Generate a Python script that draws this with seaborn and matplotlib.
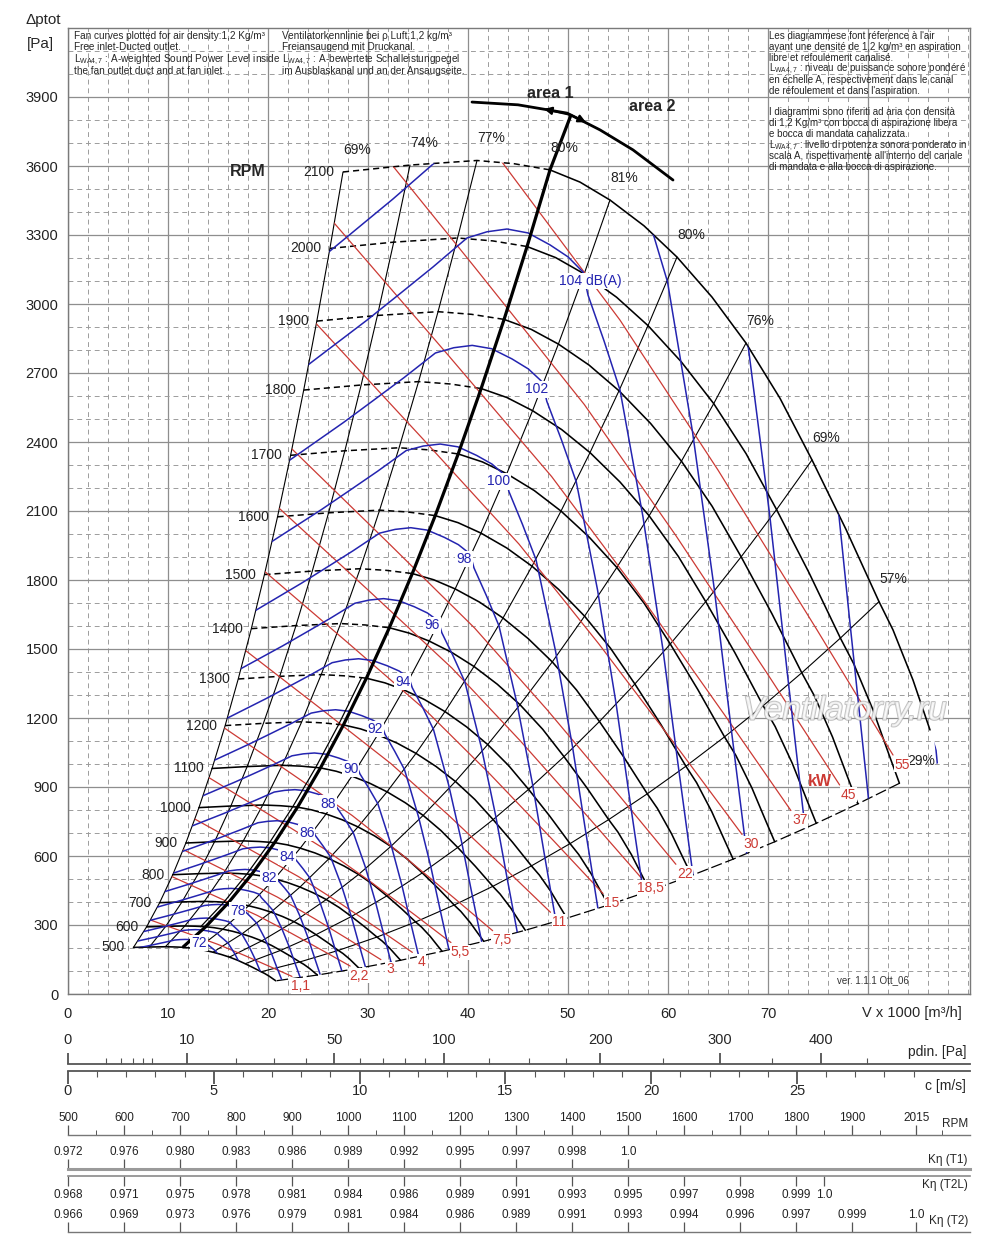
import numpy as np
import pandas as pd
import matplotlib
matplotlib.use("Agg")
import matplotlib.pyplot as plt
import matplotlib.patheffects as pe
from matplotlib.patches import Polygon
from matplotlib.ticker import MultipleLocator
from matplotlib.transforms import offset_copy
import seaborn as sns

# ---------------- values ----------------
# 2100 rpm characteristic: V x 1000 m3/h, total pressure Pa
base_V = [27.5, 34.2, 40.9, 44.6, 48.2, 51.2, 54.2, 57.6, 60.9, 64.4, 67.8,
          71.2, 74.4, 77.8, 81.1, 82.5, 84.5, 86.2, 87.3]
base_p = [3574, 3604, 3624, 3610, 3583, 3530, 3452, 3340, 3204, 3030, 2830,
          2590, 2322, 2020, 1706, 1583, 1365, 1148, 1010]
area_idx = 4  # curve point on the area 1 / area 2 line

rpm = [500, 600, 700, 800, 900, 1000, 1100, 1200, 1300, 1400, 1500,
       1600, 1700, 1800, 1900, 2000, 2100]

# efficiency lines, top end on the 2100 rpm curve
eff_labels = ["69%", "74%", "77%", "80%", "81%", "80%", "76%", "69%", "57%"]
eff_V = [27.5, 34.2, 40.9, 48.2, 54.2, 60.9, 67.8, 74.4, 81.1]
eff_p = [3574, 3604, 3624, 3583, 3452, 3204, 2830, 2322, 1706]

# 104 dB(A) sound power curve, the others are spaced by snd_step
snd_V = [24.0, 29.9, 33.2, 36.5, 39.9, 41.9, 43.9, 46.0, 48.2, 50.0, 51.5,
         52.0, 53.6, 55.2, 57.5, 59.5, 61.0, 62.5]
snd_p = [2735, 2930, 3045, 3161, 3287, 3314, 3326, 3309, 3257, 3205, 3139,
         3039, 2840, 2626, 2074, 1496, 1000, 517]
snd_levels = [72, 74, 76, 78, 80, 82, 84, 86, 88, 90, 92, 94, 96, 98, 100,
              102, 104, 106, 108, 110, 112]
snd_labelled = [72, 78, 82, 84, 86, 88, 90, 92, 94, 96, 98, 100, 102, 104]
snd_step = 1.086
snd_gap = (51.6, 3100)

# 55 kW absorbed power line, the others scale with the power
kw_V = [27.0, 31.0, 43.4, 55.2, 65.0, 74.9, 82.5]
kw_p = [4560, 4330, 3617, 2930, 2278, 1583, 1039]
kw = [1.1, 2.2, 3, 4, 5.5, 7.5, 11, 15, 18.5, 22, 30, 37, 45, 55]
kw_text = ["1,1", "2,2", "3", "4", "5,5", "7,5", "11", "15", "18,5", "22",
           "30", "37", "45", "55"]

# area limit arc
arc_V = [40.4, 45.0, 49.9, 53.2, 56.5, 60.5]
arc_p = [3878, 3866, 3830, 3757, 3670, 3539]
area_top = (50.3, 3822)

# scales under the chart
outlet_area = 0.81
air_density = 1.2
pdin_major = [0, 10, 50, 100, 200, 300, 400]
pdin_minor = [1, 2, 3, 4, 5, 20, 30, 40, 60, 70, 80, 90, 125, 150, 175, 250, 350, 450]
c_major = [0, 5, 10, 15, 20, 25]

row_rpm = [500, 600, 700, 800, 900, 1000, 1100, 1200, 1300, 1400, 1500,
           1600, 1700, 1800, 1900, 2015]
k_t1_rpm = [500, 600, 700, 800, 900, 1000, 1100, 1200, 1300, 1400, 1500]
k_t1 = ["0.972", "0.976", "0.980", "0.983", "0.986", "0.989", "0.992",
        "0.995", "0.997", "0.998", "1.0"]
k_t2l_rpm = [500, 600, 700, 800, 900, 1000, 1100, 1200, 1300, 1400, 1500,
             1600, 1700, 1800, 1850]
k_t2l = ["0.968", "0.971", "0.975", "0.978", "0.981", "0.984", "0.986",
         "0.989", "0.991", "0.993", "0.995", "0.997", "0.998", "0.999", "1.0"]
k_t2_rpm = [500, 600, 700, 800, 900, 1000, 1100, 1200, 1300, 1400, 1500,
            1600, 1700, 1800, 1900, 2015]
k_t2 = ["0.966", "0.969", "0.973", "0.976", "0.979", "0.981", "0.984",
        "0.986", "0.989", "0.991", "0.993", "0.994", "0.996", "0.997",
        "0.999", "1.0"]

# ---------------- figure ----------------
sns.set_style("white")
plt.rcParams['font.family'] = ['Liberation Sans', 'DejaVu Sans']
plt.rcParams['mathtext.fontset'] = 'custom'
plt.rcParams['mathtext.rm'] = 'Liberation Sans'
plt.rcParams['mathtext.it'] = 'Liberation Sans:italic'
narrow = ['Liberation Sans Narrow', 'Liberation Sans', 'DejaVu Sans']

H = 1243.0


def fy(y):
    return 1 - y / H


fig = plt.figure(figsize=(10, 12.43), dpi=100)
ax = fig.add_axes([0.068, fy(994), 0.902, (994 - 28) / H])

BLUE = '#2424b0'
RED = '#cc3a34'
GRID = '#8e8e8e'


def draw(rows, **kw):
    df = pd.DataFrame(rows, columns=['curve', 'V', 'p'])
    before = len(ax.lines)
    sns.lineplot(data=df, x='V', y='p', units='curve', estimator=None,
                 sort=False, legend=False, ax=ax, **kw)
    return ax.lines[before:]


scales = [n / 2100 for n in rpm]

# working region of the fan (used to clip sound and power lines)
left_edge = [(base_V[0] * s, base_p[0] * s * s) for s in scales]
top_edge = list(zip(base_V[1:], base_p[1:]))
low_edge = [(base_V[-1] * s, base_p[-1] * s * s) for s in scales[::-1]][1:]
s0 = scales[0]
rpm500 = [(v * s0, p * s0 * s0) for v, p in zip(base_V[::-1], base_p[::-1])][1:]
region = Polygon(left_edge + top_edge + low_edge + rpm500, closed=True,
                 transform=ax.transData, fc='none', ec='none')

# rpm curves
dash_rows, solid_rows = [], []
for n, s in zip(rpm, scales):
    stop = len(base_V) - 1 if n == 2100 else len(base_V)
    target = dash_rows if n >= 1200 else solid_rows
    for i in range(area_idx + 1):
        target.append((n, base_V[i] * s, base_p[i] * s * s))
    for i in range(area_idx, stop):
        solid_rows.append((n + 10000, base_V[i] * s, base_p[i] * s * s))
draw(solid_rows, color='black', lw=1.15, zorder=4)
for ln in draw(dash_rows, color='black', lw=1.1, zorder=4):
    ln.set_dashes([4, 2.6])

# lower boundary (dashed)
ax.plot([v for v, p in low_edge], [p for v, p in low_edge],
        color='black', lw=0.9, dashes=[9, 3], zorder=4)

# efficiency lines
eff_rows = []
for j, (ve, pe_) in enumerate(zip(eff_V, eff_p)):
    for s in scales:
        eff_rows.append((j, ve * s, pe_ * s * s))
draw(eff_rows, color='black', lw=0.8, zorder=3)
for lab, ve, pe_ in zip(eff_labels, eff_V, eff_p):
    ax.annotate(lab, (ve, pe_), xytext=(10.5, 16), textcoords='offset points',
                ha='center', va='center', fontsize=10, color='#222222', zorder=9)
ax.annotate("29%", (base_V[-2], base_p[-2]), xytext=(-6, -22),
            textcoords='offset points', ha='center', va='center',
            fontsize=10, color='#222222', zorder=8)

# area line (thick) and area arc
av = [eff_V[3] * s for s in scales] + [area_top[0]]
ap = [eff_p[3] * s * s for s in scales] + [area_top[1]]
ax.plot(av, ap, color='black', lw=2.3, zorder=6, solid_capstyle='butt')
tr = offset_copy(ax.transData, fig=fig, x=-5, y=0, units='dots')
ax.plot(av[1:9], ap[1:9], color='black', lw=0.9, zorder=6, transform=tr)
ax.plot(arc_V, arc_p, color='black', lw=2.0, zorder=6)
ax.annotate('', xy=(arc_V[1] + 2.6, 3848), xytext=area_top,
            arrowprops=dict(arrowstyle='-|>', color='black', lw=1.6,
                            mutation_scale=11, shrinkA=0, shrinkB=0), zorder=7)
ax.annotate('', xy=(arc_V[3] - 1.4, 3790), xytext=area_top,
            arrowprops=dict(arrowstyle='-|>', color='black', lw=1.6,
                            mutation_scale=11, shrinkA=0, shrinkB=0), zorder=7)
ax.text(48.2, 3917, "area 1", fontsize=11.5, fontweight='bold', ha='center', va='center')
ax.text(58.4, 3857, "area 2", fontsize=11.5, fontweight='bold', ha='center', va='center')

# sound power curves
snd_rows = []
for L in snd_levels:
    r = snd_step ** ((L - 104) / 2)
    for v, p in zip(snd_V, snd_p):
        snd_rows.append((L, v * r, p * r * r))
for ln in draw(snd_rows, color=BLUE, lw=1.1, zorder=5):
    ln.set_clip_path(region)
for L in snd_labelled:
    r = snd_step ** ((L - 104) / 2)
    if L == 104:
        ax.annotate("104 dB(A)", (snd_gap[0] * r, snd_gap[1] * r * r),
                    xytext=(-18, 0), textcoords='offset points', ha='left',
                    va='center', fontsize=10, color=BLUE, zorder=10,
                    bbox=dict(boxstyle='square,pad=0.08', fc='white', ec='none'))
    else:
        ax.annotate(str(L), (snd_gap[0] * r, snd_gap[1] * r * r),
                    xytext=(-5, 0), textcoords='offset points', ha='center',
                    va='center', fontsize=10, color=BLUE, zorder=10,
                    bbox=dict(boxstyle='square,pad=0.08', fc='white', ec='none'))

# absorbed power lines
kw_rows = []
for P in kw:
    f = (P / 55) ** (1 / 3)
    for v, p in zip(kw_V, kw_p):
        kw_rows.append((P, v * f, p * f * f))
for ln in draw(kw_rows, color=RED, lw=0.9, zorder=4.5):
    ln.set_clip_path(region)
for P, t in zip(kw, kw_text):
    f = (P / 55) ** (1 / 3)
    ax.annotate(t, (kw_V[-1] * f, kw_p[-1] * f * f), xytext=(6.5, -7),
                textcoords='offset points', ha='center', va='center',
                fontsize=10, color=RED, zorder=9,
                bbox=dict(boxstyle='square,pad=0.05', fc='white', ec='none'))
ax.text(75.2, 922, "kW", fontsize=11.5, fontweight='bold', color=RED,
        ha='center', va='center', zorder=9)

# rpm labels
for n, s in zip(rpm, scales):
    ax.annotate(str(n), (base_V[0] * s, base_p[0] * s * s), xytext=(-6, 0),
                textcoords='offset points', ha='right', va='center',
                fontsize=10, color='#222222')
ax.text(18.0, 3574, "RPM", fontsize=11.5, fontweight='bold', ha='center', va='center')

# watermark
ax.text(77.7, 1230, "Ventilatorry.ru", fontsize=24, style='italic', color='white',
        alpha=0.7, ha='center', va='center', zorder=11,
        path_effects=[pe.withStroke(linewidth=1.4, foreground='#a8a8a8')])
ax.text(80.5, 60, "ver. 1.1.1 Ott_06", fontsize=7, ha='center', va='center', color='#333333')

# axes, grid
ax.set_xlabel('')
ax.set_ylabel('')
ax.set_xlim(0, 90.2)
ax.set_ylim(0, 4200)
ax.set_xticks([0, 10, 20, 30, 40, 50, 60, 70, 80])
ax.set_xticklabels(['0', '10', '20', '30', '40', '50', '60', '70', ''])
ax.set_yticks(list(range(0, 4000, 300)))
ax.xaxis.set_minor_locator(MultipleLocator(2))
ax.yaxis.set_minor_locator(MultipleLocator(100))
ax.grid(which='major', color=GRID, lw=0.9, ls='-', zorder=0)
ax.grid(which='minor', color='#9c9c9c', lw=0.7, ls=(0, (5, 4)), zorder=0)
ax.set_axisbelow(True)
ax.tick_params(which='both', length=0, labelsize=10.5, colors='#222222')
ax.tick_params(axis='x', pad=9)
ax.tick_params(axis='y', pad=7)
for sp in ax.spines.values():
    sp.set_color('#7a7a7a')
    sp.set_linewidth(1.0)

# header texts, one line at a time so the spacing stays even
lw_sub = r"L$_{\mathregular{WA4,7}}$"
txt_en = ["Fan curves plotted for air density:1,2 Kg/m³",
          "Free inlet-Ducted outlet.",
          lw_sub + " : A-weighted Sound Power Level inside",
          "the fan outlet duct and at fan inlet."]
txt_de = ["Ventilatorkennlinie bei ρ Luft:1,2 kg/m³",
          "Freiansaugend mit Druckanal.",
          lw_sub + " : A-bewertete Schalleistungpegel",
          "im Ausblaskanal und an der Ansaugseite."]
txt_fr = ["Les diagrammese font réference à l'air",
          "ayant une densité de 1,2 kg/m³ en aspiration",
          "libre et refoulement canalisé.",
          lw_sub + " : niveau de puissance sonore pondéré",
          "en échelle A, respectivement dans le canal",
          "de réfoulement et dans l'aspiration.",
          "",
          "I diagrammi sono riferiti ad aria con densità",
          "di 1,2 Kg/m³ con bocca di aspirazione libera",
          "e bocca di mandata canalizzata.",
          lw_sub + " : livello di potenza sonora ponderato in",
          "scala A, rispettivamente all'interno del canale",
          "di mandata e alla bocca di aspirazione."]


def block(x_px, y_px, lines, step, size):
    for i, t in enumerate(lines):
        if t:
            fig.text(x_px / 1000, fy(y_px + i * step), t, fontsize=size,
                     ha='left', va='baseline')


block(74, 39, txt_en, 11.5, 7.2)
block(282, 39, txt_de, 11.5, 7.2)
block(769, 39, txt_fr, 10.9, 7.0)

fig.text(0.026, fy(20), "Δptot", fontsize=11, va='center', ha='left')
fig.text(0.027, fy(44), "[Pa]", fontsize=11, va='center', ha='left')
fig.text(0.962, fy(1013), "V x 1000 [m³/h]", fontsize=10.5, va='center', ha='right')

# ---------------- pdin and c scales ----------------
k_vc = 3.6 * outlet_area


def v_to_c(v):
    return np.asarray(v) / k_vc


def c_to_v(c):
    return np.asarray(c) * k_vc


def v_to_pd(v):
    return 0.5 * air_density * (np.asarray(v) / k_vc) ** 2


def pd_to_v(p):
    return k_vc * np.sqrt(np.clip(np.asarray(p, dtype=float), 0, None) / (0.5 * air_density))


axs = fig.add_axes([0.068, fy(1070.5), 0.902, (1070.5 - 1064) / H])
axs.set_xlim(0, 90.2)
axs.set_xticks([])
axs.set_yticks([])
axs.patch.set_visible(False)
for sp in axs.spines.values():
    sp.set_visible(False)

sec_p = axs.secondary_xaxis('top', functions=(v_to_pd, pd_to_v))
sec_p.set_xticks(pdin_major)
sec_p.set_xticklabels([str(v) for v in pdin_major])
sec_p.set_xticks(pdin_minor, minor=True)
sec_p.tick_params(which='major', length=8, width=1.1, pad=4, labelsize=10.5, color='#333333')
sec_p.tick_params(which='minor', length=4.3, width=0.8, color='#555555')
sec_p.spines['top'].set_linewidth(1.3)
sec_p.spines['top'].set_color('#555555')

sec_c = axs.secondary_xaxis('bottom', functions=(v_to_c, c_to_v))
sec_c.set_xticks(c_major)
sec_c.set_xticklabels([str(v) for v in c_major])
sec_c.set_xticks([c for c in range(1, 30) if c % 5], minor=True)
sec_c.tick_params(which='major', length=9, width=1.1, pad=1, labelsize=10.5, color='#333333')
sec_c.tick_params(which='minor', length=4.3, width=0.8, color='#555555')
sec_c.spines['bottom'].set_linewidth(1.3)
sec_c.spines['bottom'].set_color('#555555')

fig.text(0.966, fy(1052), "pdin. [Pa]", fontsize=10, ha='right', va='center')
fig.text(0.966, fy(1086), "c [m/s]", fontsize=10, ha='right', va='center')

# ---------------- rpm and efficiency correction rows ----------------


def row(y_px, side, ticks, labels, minor=None, lw=1.0, color='#777777'):
    a = fig.add_axes([0.068, fy(y_px), 0.902, 0.0001])
    a.set_xlim(500, 500 + 902 / 0.56)
    a.set_yticks([])
    a.patch.set_visible(False)
    for k, sp in a.spines.items():
        sp.set_visible(k == side)
    a.spines[side].set_color(color)
    a.spines[side].set_linewidth(lw)
    a.set_xticks(ticks)
    a.set_xticklabels(labels, fontfamily=narrow, fontsize=8.5)
    if minor is not None:
        a.set_xticks(minor, minor=True)
    top = side == 'top'
    a.tick_params(axis='x', which='both', top=top, labeltop=top,
                  bottom=not top, labelbottom=not top, color='#555555',
                  labelcolor='#222222')
    a.tick_params(axis='x', which='major', length=7, width=0.9,
                  pad=0.5 if top else 3)
    a.tick_params(axis='x', which='minor', length=3.5, width=0.7)
    return a


row(1135, 'top', row_rpm, [str(v) for v in row_rpm],
    minor=[550, 650, 750, 850, 950, 1050, 1150, 1250, 1350, 1450, 1550,
           1650, 1750, 1850, 1950, 2060])
row(1169, 'top', k_t1_rpm, k_t1, lw=2.2, color='#9a9a9a')
row(1175.5, 'bottom', k_t2l_rpm, k_t2l, lw=1.2, color='#8a8a8a')
row(1232, 'top', k_t2_rpm, k_t2, lw=1.0)

fig.text(0.968, fy(1124), "RPM", fontsize=8.5, ha='right', va='center', family=narrow)
fig.text(0.968, fy(1160), "Kη (T1)", fontsize=8.5, ha='right', va='center', family=narrow)
fig.text(0.968, fy(1185), "Kη (T2L)", fontsize=8.5, ha='right', va='center', family=narrow)
fig.text(0.968, fy(1221), "Kη (T2)", fontsize=8.5, ha='right', va='center', family=narrow)

fig.savefig("out.png", dpi=100)
